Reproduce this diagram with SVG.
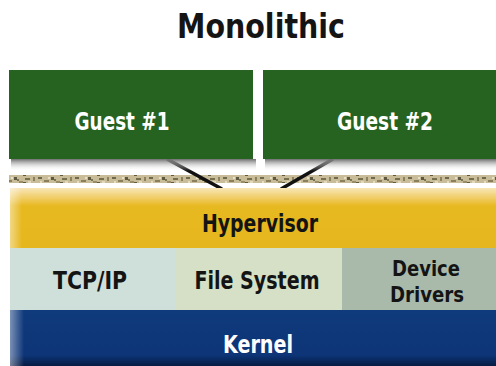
<svg xmlns="http://www.w3.org/2000/svg" width="496" height="366" viewBox="0 0 496 366">
<defs>
<style>
.t{font-family:"DejaVu Sans Condensed","DejaVu Sans","Liberation Sans",sans-serif;font-weight:bold;font-size:25px;text-anchor:middle}
.s{font-size:22px}
.w{fill:#ffffff}
.k{fill:#141414}
.guest{fill:#266320}
.conn{stroke:#111;stroke-width:3.5;fill:none}
</style>
<linearGradient id="shadow" x1="0" y1="0" x2="0" y2="1">
<stop offset="0" stop-color="#6e6e6e"/>
<stop offset="1" stop-color="#ffffff" stop-opacity="0"/>
</linearGradient>
<linearGradient id="hyp" x1="0" y1="0" x2="0" y2="1">
<stop offset="0" stop-color="#f8e6b8"/>
<stop offset="0.22" stop-color="#edc54a"/>
<stop offset="0.3" stop-color="#e7b920"/>
<stop offset="1" stop-color="#e6b61e"/>
</linearGradient>
<linearGradient id="kern" x1="0" y1="0" x2="0" y2="1">
<stop offset="0" stop-color="#0f3a7c"/>
<stop offset="0.8" stop-color="#0d3578"/>
<stop offset="1" stop-color="#061c44"/>
</linearGradient>
<linearGradient id="leftedge" x1="0" y1="0" x2="1" y2="0">
<stop offset="0" stop-color="#ffffff" stop-opacity="0.45"/>
<stop offset="1" stop-color="#ffffff" stop-opacity="0"/>
</linearGradient>
<pattern id="gravel" width="37" height="8" patternUnits="userSpaceOnUse">
<rect width="37" height="8" fill="#c9bc98"/>
<rect x="1" y="1" width="4" height="2" fill="#6f6a4e"/>
<rect x="7" y="4" width="5" height="2" fill="#8a7f5c"/>
<rect x="14" y="1" width="3" height="3" fill="#5e5a42"/>
<rect x="19" y="5" width="4" height="2" fill="#9a8e66"/>
<rect x="3" y="5" width="2" height="2" fill="#e6dcc0"/>
<rect x="11" y="1" width="2" height="2" fill="#e8e0c8"/>
<rect x="17" y="3" width="2" height="2" fill="#7b7558"/>
<rect x="25" y="2" width="5" height="2" fill="#76704f"/>
<rect x="28" y="5" width="3" height="2" fill="#e2d8bc"/>
<rect x="33" y="1" width="2" height="4" fill="#8c8260"/>
<rect x="23" y="6" width="3" height="2" fill="#5f5a40"/>
</pattern>
</defs>
<rect width="496" height="366" fill="#ffffff"/>
<text class="t k" x="261" y="38" style="font-size:34px" textLength="168" lengthAdjust="spacingAndGlyphs">Monolithic</text>

<rect x="9" y="175" width="487" height="8" fill="url(#gravel)"/>

<g id="connectors">
<line class="conn" x1="167" y1="159" x2="222" y2="189"/>
<line class="conn" x1="333" y1="159" x2="281" y2="189"/>
</g>

<g id="guest1">
<rect x="11" y="159" width="245" height="12" fill="url(#shadow)"/>
<rect class="guest" x="9" y="70" width="244" height="89"/>
<text class="t w" x="122" y="130" textLength="95" lengthAdjust="spacingAndGlyphs">Guest #1</text>
</g>
<g id="guest2">
<rect x="265" y="159" width="231" height="12" fill="url(#shadow)"/>
<rect class="guest" x="263" y="70" width="233" height="89"/>
<text class="t w" x="385" y="130" textLength="96" lengthAdjust="spacingAndGlyphs">Guest #2</text>
</g>

<g id="hypervisor">
<rect x="10" y="188" width="486" height="60" fill="url(#hyp)"/>
<rect x="10" y="188" width="12" height="60" fill="url(#leftedge)"/>
<text class="t k" x="260" y="232" textLength="116" lengthAdjust="spacingAndGlyphs">Hypervisor</text>
</g>
<g id="tcpip">
<rect x="10" y="248" width="166" height="62" fill="#cfe0da"/>
<text class="t k" x="90" y="289" textLength="74" lengthAdjust="spacingAndGlyphs">TCP/IP</text>
</g>
<g id="filesystem">
<rect x="176" y="248" width="166" height="62" fill="#d5e0c6"/>
<text class="t k" x="257" y="289" textLength="125" lengthAdjust="spacingAndGlyphs">File System</text>
</g>
<g id="drivers">
<rect x="342" y="248" width="154" height="62" fill="#a9baab"/>
<text class="t k s" x="426" y="276" textLength="68" lengthAdjust="spacingAndGlyphs">Device</text>
<text class="t k s" x="427" y="302" textLength="74" lengthAdjust="spacingAndGlyphs">Drivers</text>
</g>
<g id="kernel">
<rect x="10" y="310" width="486" height="56" fill="url(#kern)"/>
<rect x="10" y="310" width="14" height="56" fill="url(#leftedge)"/>
<text class="t w" x="258" y="353" textLength="70" lengthAdjust="spacingAndGlyphs">Kernel</text>
</g>
</svg>
